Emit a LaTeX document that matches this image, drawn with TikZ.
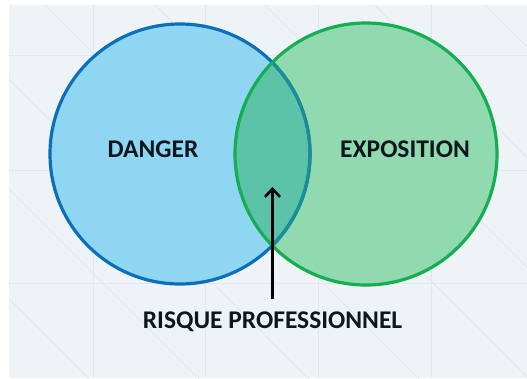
\documentclass[tikz,border=0pt]{standalone}
\usepackage{fontspec}
\setmainfont{Carlito}
\usetikzlibrary{arrows.meta}
\definecolor{bgc}{HTML}{EEF3F7}
\definecolor{gridc}{HTML}{E1E7EB}
\definecolor{bluefill}{HTML}{8ED6F2}
\definecolor{bluestroke}{HTML}{0C6FB9}
\definecolor{greenfill}{HTML}{91D9AF}
\definecolor{greenstroke}{HTML}{17AD52}
\definecolor{interfill}{HTML}{5CC3A8}
\definecolor{interstroke}{HTML}{1A8E97}
\definecolor{txt}{HTML}{10161F}
\tikzset{
  lbl/.style={font=\bfseries\fontsize{25.5}{29}\selectfont, text=txt, inner sep=0pt, anchor=base},
  circ/.style={line width=3.2pt},
}
\begin{document}
\begin{tikzpicture}[x=1pt,y=-1pt]
\useasboundingbox (0,0) rectangle (527,378);
\fill[white] (0,0) rectangle (527,378);
\fill[bgc] (9,5) rectangle (527,378);
\begin{scope}
\clip (9,5) rectangle (527,378);
\foreach \x in {93,205,318,431} \draw[gridc, line width=0.8pt] (\x,5) -- (\x,378);
\foreach \y in {55,170,283} \draw[gridc, line width=0.8pt] (9,\y) -- (527,\y);
\foreach \s in {-400,-290,...,600} \draw[gridc, line width=0.8pt] (\s,0) -- ++(420,420);
\end{scope}
% circles
\fill[bluefill] (180,154) circle[radius=130];
\fill[greenfill] (366,154) circle[radius=131];
\begin{scope}
\clip (180,154) circle[radius=130];
\fill[interfill] (366,154) circle[radius=131];
\end{scope}
\draw[circ, bluestroke] (180,154) circle[radius=130];
\begin{scope}
\clip (366,154) circle[radius=131];
\draw[circ, interstroke] (180,154) circle[radius=130];
\end{scope}
\draw[circ, greenstroke] (366,154) circle[radius=131];
% labels
\node[lbl] (danger) at (153,157) {DANGER};
\node[lbl] (expo) at (405,157) {EXPOSITION};
\node[lbl] (risk) at (272.5,328) {RISQUE PROFESSIONNEL};
\coordinate (tip) at (272.5,187);
\draw[line width=2.6pt, -{Straight Barb[length=8pt,width=15pt,line width=2.6pt]}] ([yshift=12pt]risk.north) -- (tip);
\end{tikzpicture}
\end{document}
